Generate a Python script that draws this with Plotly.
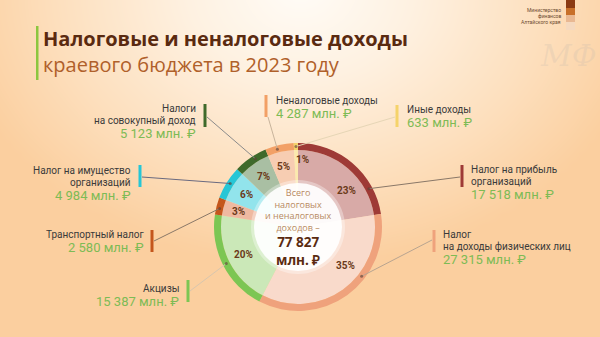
import numpy as np
import plotly.graph_objects as go

# ---------------- data ----------------
categories = [
    "Налог на прибыль организаций",
    "Налог на доходы физических лиц",
    "Акцизы",
    "Транспортный налог",
    "Налог на имущество организаций",
    "Налоги на совокупный доход",
    "Неналоговые доходы",
    "Иные доходы",
]
values = [17518, 27315, 15387, 2580, 4984, 5123, 4287, 633]
label_lines = [
    ["Налог на прибыль", "организаций"],
    ["Налог", "на доходы физических лиц"],
    ["Акцизы"],
    ["Транспортный налог"],
    ["Налог на имущество", "организаций"],
    ["Налоги", "на совокупный доход"],
    ["Неналоговые доходы"],
    ["Иные доходы"],
]
title_line1 = "Налоговые и неналоговые доходы"
title_line2 = "краевого бюджета в 2023 году"
center_lines = ["Всего", "налоговых", "и неналоговых", "доходов –"]
unit = "млн. ₽"

# ---------------- styles ----------------
ring_colors = ["#9e3a36", "#efa27c", "#7cc653", "#c4561c", "#26c6d6", "#3f6a2b", "#f2a066", "#f5d36a"]
fill_colors = ["#d8aaa7", "#f9dacb", "#cbe8b8", "#efb9a1", "#92e4ec", "#a9bfa3", "#f7cdb2", "#fbe9ae"]
W, H = 600, 337
CX, CY = 298, 227
R_OUT, R_IN, R_HOLE = 84, 77, 44
R_DOT = 80.5
pct_angle_shift = [12.5, -15, 0, 0, 0, 0, -1, 5]
pct_radius = [61, 61, 61, 61, 61, 61, 62, 68]
dot_frac = [0.76, 0.37, 0.5, 0.4, 0.53, 0.61, 0.4, 0.5]
# callout style: bar x, bar top, bar bottom, side of text, text x, first text y, line start (x,y)
callouts = [
    dict(bx=462, b0=165, b1=187, side="left", tx=469, ty=169, lx=460, ly=177, lc="#8a7868"),
    dict(bx=434, b0=230, b1=252, side="left", tx=441, ty=234, lx=432, ly=240, lc="#b8a490"),
    dict(bx=188, b0=280, b1=302, side="right", tx=181, ty=288, lx=190, ly=291, lc="#d8c6ae"),
    dict(bx=152, b0=230, b1=252, side="right", tx=146, ty=234, lx=154, ly=241, lc="#8a7868"),
    dict(bx=140, b0=165, b1=187, side="right", tx=133, ty=170, lx=142, ly=177, lc="#6a6a80"),
    dict(bx=205, b0=104, b1=127, side="right", tx=198, ty=108, lx=207, ly=117, lc="#8a8a8a"),
    dict(bx=266, b0=95, b1=117, side="left", tx=274, ty=100, lx=268, ly=117, lc="#c8b49c"),
    dict(bx=397, b0=105, b1=127, side="left", tx=405, ty=109, lx=395, ly=117, lc="#e6d6b6"),
]
TEXT_COLOR = "#3a3a3a"
GREEN = "#7dbb55"
BROWN = "#5a2a10"

def px(x):
    return x / W

def py(y):
    return 1 - y / H

total = sum(values)

# largest-remainder percentage rounding
raw = [v / total * 100 for v in values]
fl = [int(np.floor(r)) for r in raw]
rem = sorted(range(len(raw)), key=lambda i: raw[i] - fl[i], reverse=True)
for i in rem[: 100 - sum(fl)]:
    fl[i] += 1
pcts = fl

def fmt(v):
    return f"{v:,}".replace(",", " ")

fig = go.Figure()

# background gradient
gx = np.linspace(-10, 610, 64)
gy = np.linspace(-10, 347, 36)
GX, GY = np.meshgrid(gx, gy)
Z = np.clip(np.sqrt(((GX - 300) / 320) ** 2 + ((GY + 10) / 250) ** 2), 0, 1.1)
fig.add_trace(go.Heatmap(
    x=gx, y=gy, z=Z, zsmooth="best", showscale=False, hoverinfo="skip",
    colorscale=[[0, "#fffcf7"], [0.32, "#fef1e1"], [0.7, "#fddfbd"], [1, "#fbcf9f"]],
    zmin=0, zmax=1.1,
))

# inner fill pie
fig.add_trace(go.Pie(
    values=values, labels=categories, sort=False, direction="clockwise", rotation=0,
    marker=dict(colors=fill_colors, line=dict(width=0)), textinfo="none", hoverinfo="skip",
    domain=dict(x=[px(CX - R_IN), px(CX + R_IN)], y=[py(CY + R_IN), py(CY - R_IN)]),
    showlegend=False,
))
# outer ring
fig.add_trace(go.Pie(
    values=values, labels=categories, sort=False, direction="clockwise", rotation=0,
    hole=R_IN / R_OUT,
    marker=dict(colors=ring_colors, line=dict(width=0)), textinfo="none", hoverinfo="skip",
    domain=dict(x=[px(CX - R_OUT), px(CX + R_OUT)], y=[py(CY + R_OUT), py(CY - R_OUT)]),
    showlegend=False,
))

shapes = []
annotations = []

# white center
shapes.append(dict(type="circle", xref="x", yref="y", x0=CX - R_HOLE - 3, x1=CX + R_HOLE + 3,
                   y0=CY - R_HOLE - 3, y1=CY + R_HOLE + 3, fillcolor="rgba(255,255,255,0.35)",
                   line=dict(width=0), layer="above"))
shapes.append(dict(type="circle", xref="x", yref="y", x0=CX - R_HOLE, x1=CX + R_HOLE,
                   y0=CY - R_HOLE, y1=CY + R_HOLE, fillcolor="rgba(255,255,255,0.9)",
                   line=dict(width=0), layer="above"))

# percentages and callouts
cum = 0
for i, v in enumerate(values):
    a0 = cum / total * 360
    a1 = (cum + v) / total * 360
    cum += v
    am = np.radians((a0 + a1) / 2 + pct_angle_shift[i])
    annotations.append(dict(
        x=CX + pct_radius[i] * np.sin(am), y=CY - pct_radius[i] * np.cos(am), xref="x", yref="y",
        text=f"<b>{pcts[i]}%</b>", showarrow=False,
        font=dict(family="Roboto", size=10, color="#6b3a1a"),
    ))
    c = callouts[i]
    ad = np.radians(a0 + (a1 - a0) * dot_frac[i])
    dx, dy = CX + R_DOT * np.sin(ad), CY - R_DOT * np.cos(ad)
    shapes.append(dict(type="line", xref="x", yref="y", x0=c["lx"], y0=c["ly"], x1=dx, y1=dy,
                       line=dict(color=c["lc"], width=1), layer="above"))
    shapes.append(dict(type="circle", xref="x", yref="y", x0=dx - 1.5, x1=dx + 1.5, y0=dy - 1.5, y1=dy + 1.5,
                       fillcolor="rgba(90,60,50,0.6)", line=dict(width=0), layer="above"))
    shapes.append(dict(type="rect", xref="x", yref="y", x0=c["bx"] - 1.5, x1=c["bx"] + 1.5,
                       y0=c["b0"], y1=c["b1"], fillcolor=ring_colors[i], line=dict(width=0), layer="above"))
    anchor = "left" if c["side"] == "left" else "right"
    y = c["ty"]
    for line in label_lines[i]:
        annotations.append(dict(x=c["tx"], y=y, xref="x", yref="y", text=line, showarrow=False,
                                xanchor=anchor, yanchor="middle",
                                font=dict(family="Roboto", size=10, color=TEXT_COLOR)))
        y += 12
    annotations.append(dict(x=c["tx"], y=y + 1, xref="x", yref="y", text=f"{fmt(v)} {unit}",
                            showarrow=False, xanchor=anchor, yanchor="middle",
                            font=dict(family="Roboto", size=13, color=GREEN)))

# center text
annotations.append(dict(x=CX, y=210, xref="x", yref="y", text="<br>".join(center_lines), showarrow=False,
                        yanchor="middle", borderpad=0,
                        font=dict(family="Open Sans", size=9, color="#b88a62")))
annotations.append(dict(x=CX, y=250.5, xref="x", yref="y",
                        text=f"<b>{fmt(total)}</b><br><b>{unit}</b>", showarrow=False,
                        yanchor="middle", borderpad=0,
                        font=dict(family="Open Sans", size=13.5, color=BROWN)))

# title
shapes.append(dict(type="rect", xref="x", yref="y", x0=36, x1=38.5, y0=26, y1=80,
                   fillcolor="#8cc63f", line=dict(width=0), layer="above"))
annotations.append(dict(x=41, y=38, xref="x", yref="y", text=f"<b>{title_line1}</b>", showarrow=False,
                        xanchor="left", yanchor="middle",
                        font=dict(family="Open Sans", size=20, color=BROWN)))
annotations.append(dict(x=41, y=64, xref="x", yref="y", text=title_line2, showarrow=False,
                        xanchor="left", yanchor="middle",
                        font=dict(family="Open Sans", size=20, color="#b0602a")))

# logo
for y0, y1, col in [(0, 8, "#8b3a12"), (8, 15, "#c8702a"), (15, 22, "#e9b892"), (22, 30, "#f5d9bf")]:
    shapes.append(dict(type="rect", xref="x", yref="y", x0=566, x1=575, y0=y0, y1=y1,
                       fillcolor=col, line=dict(width=0), layer="above"))
for t, yy in zip(["Министерство", "финансов", "Алтайского края"], [10, 16, 22]):
    annotations.append(dict(x=563, y=yy, xref="x", yref="y", text=t, showarrow=False,
                            xanchor="right", yanchor="middle",
                            font=dict(family="Roboto", size=5, color="#6b4a30")))
annotations.append(dict(x=568, y=55, xref="x", yref="y", text="<i>МФ</i>", showarrow=False,
                        font=dict(family="DejaVu Serif", size=30, color="rgba(205,190,175,0.28)")))

fig.update_layout(
    width=W, height=H, margin=dict(l=0, r=0, t=0, b=0),
    paper_bgcolor="#fde3c6", plot_bgcolor="rgba(0,0,0,0)",
    xaxis=dict(range=[0, W], visible=False, fixedrange=True, domain=[0, 1]),
    yaxis=dict(range=[H, 0], visible=False, fixedrange=True, domain=[0, 1]),
    shapes=shapes, annotations=annotations, showlegend=False,
)

fig.write_html("out.html")
